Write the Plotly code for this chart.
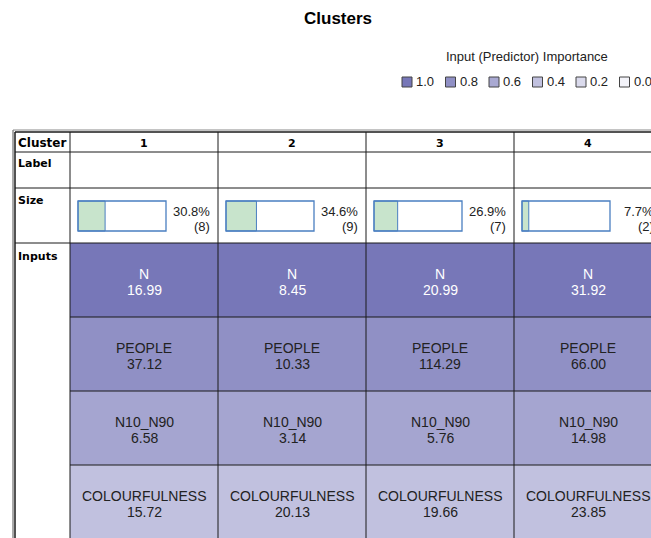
import plotly.graph_objects as go

# ---------------- data ----------------
clusters = ["1", "2", "3", "4"]
size_pct = [30.8, 34.6, 26.9, 7.7]
size_n = [8, 9, 7, 2]
inputs = ["N", "PEOPLE", "N10_N90", "COLOURFULNESS"]
importance = [1.0, 0.8, 0.63, 0.4]
means_N = [16.99, 8.45, 20.99, 31.92]
means_PEOPLE = [37.12, 10.33, 114.29, 66.00]
means_N10_N90 = [6.58, 3.14, 5.76, 14.98]
means_COLOURFULNESS = [15.72, 20.13, 19.66, 23.85]
legend_levels = [1.0, 0.8, 0.6, 0.4, 0.2, 0.0]
means = [means_N, means_PEOPLE, means_N10_N90, means_COLOURFULNESS]

# ---------------- layout constants (pixel-like axis units) ----------------
W, H = 651, 538
LEFT = 15
FIRST_W = 55
COL_W = 148
TOP = 132
HEADER_H, LABEL_H, SIZE_H, INPUT_H = 20, 36, 55, 74
C_LO = (243, 243, 249)
C_HI = (119, 119, 184)
colorscale = [[0, "rgb(%d,%d,%d)" % C_LO], [1, "rgb(%d,%d,%d)" % C_HI]]


def scale_color(v):
    r, g, b = (round(lo + (hi - lo) * v) for lo, hi in zip(C_LO, C_HI))
    return f"rgb({r},{g},{b})"


col_edges = [LEFT, LEFT + FIRST_W] + [LEFT + FIRST_W + COL_W * (i + 1) for i in range(len(clusters))]
y_header = TOP
y_label = y_header + HEADER_H
y_size = y_label + LABEL_H
y_inputs = y_size + SIZE_H
row_edges = [y_inputs + INPUT_H * i for i in range(len(inputs) + 1)]
bottom = row_edges[-1]

fig = go.Figure()

# heatmap of importance-coloured cells
z = [[imp for _ in clusters] for imp in importance]
fig.add_trace(go.Heatmap(
    x=col_edges[1:], y=row_edges, z=z, zmin=0, zmax=1,
    colorscale=colorscale, showscale=False, hoverinfo="skip"))

shapes = []
annos = []
LINE = "#1a1a1a"
FONT = "Liberation Sans, Arial, sans-serif"
BOLD = "DejaVu Sans, Verdana, sans-serif"


def label(x, y, text, xanchor="center", yanchor="middle", **kw):
    # annotations placed in paper units so that partly-visible ones are not hidden
    d = dict(x=x / W, y=1 - y / H, xref="paper", yref="paper", text=text, showarrow=False,
             xanchor=xanchor, yanchor=yanchor)
    d.update(kw)
    annos.append(d)


# grid lines
for x in col_edges[1:]:
    shapes.append(dict(type="line", x0=x, x1=x, y0=y_header, y1=bottom + 20,
                       line=dict(color=LINE, width=1)))
for y in [y_label, y_size, y_inputs]:
    shapes.append(dict(type="line", x0=LEFT, x1=W + 50, y0=y, y1=y, line=dict(color=LINE, width=1)))
for y in row_edges[1:]:
    shapes.append(dict(type="line", x0=col_edges[1], x1=W + 50, y0=y, y1=y,
                       line=dict(color=LINE, width=1)))
# outer double border
shapes.append(dict(type="line", x0=LEFT - 2, x1=LEFT - 2, y0=TOP - 2, y1=bottom + 20,
                   line=dict(color="#555", width=1)))
shapes.append(dict(type="line", x0=LEFT, x1=LEFT, y0=TOP, y1=bottom + 20,
                   line=dict(color=LINE, width=1.5)))
shapes.append(dict(type="line", x0=LEFT - 2, x1=W + 50, y0=TOP - 2, y1=TOP - 2,
                   line=dict(color="#888", width=1)))
shapes.append(dict(type="line", x0=LEFT, x1=W + 50, y0=TOP, y1=TOP,
                   line=dict(color=LINE, width=1.5)))

# row headers
for txt, y in [("Cluster", y_header + 2), ("Label", y_label + 3), ("Size", y_size + 4), ("Inputs", y_inputs + 5)]:
    label(LEFT + 1, y, f"<b>{txt}</b>", xanchor="left", yanchor="top",
          font=dict(family=BOLD, size=11 if txt != "Cluster" else 12, color="black"))

BAR_W = 88
for j, c in enumerate(clusters):
    x0 = col_edges[j + 1]
    xc = x0 + COL_W / 2
    label(xc, y_header + HEADER_H / 2 + 1, f"<b>{c}</b>",
          font=dict(family=BOLD, size=11, color="black"))
    # size bar
    bx0 = x0 + 8
    by0, by1 = y_size + 13, y_size + 43
    shapes.append(dict(type="rect", x0=bx0, x1=bx0 + BAR_W * size_pct[j] / 100, y0=by0, y1=by1,
                       fillcolor="#c8e4cc", line=dict(color="#4a7fc1", width=1)))
    shapes.append(dict(type="rect", x0=bx0, x1=bx0 + BAR_W, y0=by0, y1=by1,
                       fillcolor="rgba(0,0,0,0)", line=dict(color="#4a7fc1", width=1.3)))
    label(x0 + COL_W - 6, y_size + 24, f"{size_pct[j]:.1f}%", xanchor="right",
          font=dict(family=FONT, size=13, color="#222"))
    label(x0 + COL_W - 6, y_size + 38, f"({size_n[j]})", xanchor="right",
          font=dict(family=FONT, size=13, color="#222"))
    # input cells
    for i, name in enumerate(inputs):
        yc = (row_edges[i] + row_edges[i + 1]) / 2
        col = "white" if importance[i] > 0.9 else "#222"
        label(xc, yc - 6, name, font=dict(family=FONT, size=14, color=col))
        label(xc, yc + 10, f"{means[i][j]:.2f}", font=dict(family=FONT, size=14, color=col))

# title
label(338, 19, "<b>Clusters</b>", font=dict(family=FONT, size=17, color="black"))
# importance legend
label(527, 57, "Input (Predictor) Importance", font=dict(family=FONT, size=13, color="#222"))
for k, lv in enumerate(legend_levels):
    sx = 402 + 43.5 * k
    shapes.append(dict(type="rect", x0=sx, x1=sx + 10, y0=77, y1=87, fillcolor=scale_color(lv),
                       line=dict(color="#444", width=1)))
    label(sx + 12, 82, f"{lv:.1f}", xanchor="left", font=dict(family=FONT, size=13, color="#222"))

fig.update_layout(
    width=W, height=H, margin=dict(l=0, r=0, t=0, b=0),
    paper_bgcolor="white", plot_bgcolor="white",
    xaxis=dict(range=[0, W], visible=False, fixedrange=True),
    yaxis=dict(range=[H, 0], visible=False, fixedrange=True),
    shapes=shapes, annotations=annos, showlegend=False,
)
fig.write_html(
    "out.html",
    config={"displayModeBar": False},
    post_script="document.body.style.margin='0';document.body.style.overflow='hidden';",
)
